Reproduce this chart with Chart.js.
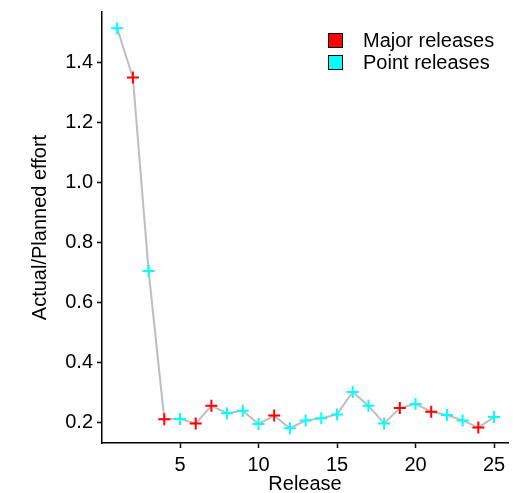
<!DOCTYPE html>
<html>
<head>
<meta charset="utf-8">
<script src="https://cdn.jsdelivr.net/npm/chart.js@4"></script>
<style>
  body { margin: 0; background: #fff; }
  #wrap { position: relative; width: 513px; height: 493px; }
  #legend { position: absolute; left: 328px; top: 29px; font: 20px "Liberation Sans", Arial, sans-serif; color: #000; }
  #legend div { height: 22px; line-height: 22px; white-space: nowrap; }
  #legend span.box { display: inline-block; width: 13px; height: 13px; border: 1px solid #000; vertical-align: -1px; margin-right: 20px; }
</style>
</head>
<body>
<div id="wrap">
  <canvas id="chart" width="513" height="493"></canvas>
  <div id="legend">
    <div><span class="box" style="background:#ff0000"></span>Major releases</div>
    <div><span class="box" style="background:#00ffff"></span>Point releases</div>
  </div>
</div>
<script>
const releases = [1, 2, 3, 4, 5, 6, 7, 8, 9, 10, 11, 12, 13, 14, 15, 16, 17, 18, 19, 20, 21, 22, 23, 24, 25];
const effortRatio = [1.516, 1.351, 0.706, 0.211, 0.212, 0.197, 0.256, 0.231, 0.239, 0.195,
                     0.223, 0.181, 0.207, 0.214, 0.227, 0.302, 0.256, 0.197, 0.248, 0.262,
                     0.236, 0.225, 0.207, 0.183, 0.218];
const majorReleases = [2, 4, 6, 7, 11, 19, 21, 24];
const xTicks = [5, 10, 15, 20, 25];
const yTicks = [0.2, 0.4, 0.6, 0.8, 1.0, 1.2, 1.4];

const allPoints = releases.map((r, i) => ({ x: r, y: effortRatio[i] }));
const majorPoints = allPoints.filter(p => majorReleases.includes(p.x));
const pointPoints = allPoints.filter(p => !majorReleases.includes(p.x));

const font = { family: '"Liberation Sans", Arial, sans-serif', size: 20 };

function axis(min, max, ticks, title) {
    return {
        type: 'linear',
        min: min,
        max: max,
        afterBuildTicks: scale => { scale.ticks = ticks.map(v => ({ value: v })); },
        grid: { drawOnChartArea: false, drawTicks: true, tickLength: 5, tickWidth: 1.5, color: '#000' },
        border: { display: true, color: '#000', width: 1.5 },
        ticks: { color: '#000', font: font, maxRotation: 0 },
        title: { display: true, text: title, color: '#000', font: Object.assign({ lineHeight: 1 }, font) }
    };
}

const xAxis = axis(0.032, 25.89, xTicks, 'Release');
xAxis.ticks.padding = 5;
xAxis.ticks.callback = v => v;
xAxis.title.padding = { top: 0, bottom: 0 };
xAxis.title.font.lineHeight = 0.85;
xAxis.afterFit = scale => {
    scale.height = 50;
    scale.paddingLeft = 0;
    scale.paddingRight = 0;
};

const yAxis = axis(0.1316, 1.570, yTicks, 'Actual/Planned effort');
yAxis.ticks.padding = 4;
yAxis.ticks.callback = v => v.toFixed(1);
yAxis.title.padding = { top: 30, bottom: 0 };
yAxis.afterFit = scale => {
    scale.width = 102;
    scale.paddingTop = 0;
    scale.paddingBottom = 0;
};

new Chart(document.getElementById('chart').getContext('2d'), {
    type: 'scatter',
    data: {
        datasets: [
            {
                label: 'Major releases',
                data: majorPoints,
                pointStyle: 'cross',
                pointRadius: 6,
                pointBorderWidth: 2,
                borderColor: '#ff0000',
                backgroundColor: '#ff0000'
            },
            {
                label: 'Point releases',
                data: pointPoints,
                pointStyle: 'cross',
                pointRadius: 6,
                pointBorderWidth: 2,
                borderColor: '#00ffff',
                backgroundColor: '#00ffff'
            },
            {
                label: 'trend',
                data: allPoints,
                showLine: true,
                pointRadius: 0,
                borderColor: '#bebebe',
                borderWidth: 2
            }
        ]
    },
    options: {
        responsive: false,
        animation: false,
        layout: { autoPadding: false, padding: { top: 12, right: 5, left: 0, bottom: 0 } },
        plugins: { legend: { display: false }, tooltip: { enabled: false } },
        scales: { x: xAxis, y: yAxis }
    }
});
</script>
</body>
</html>
